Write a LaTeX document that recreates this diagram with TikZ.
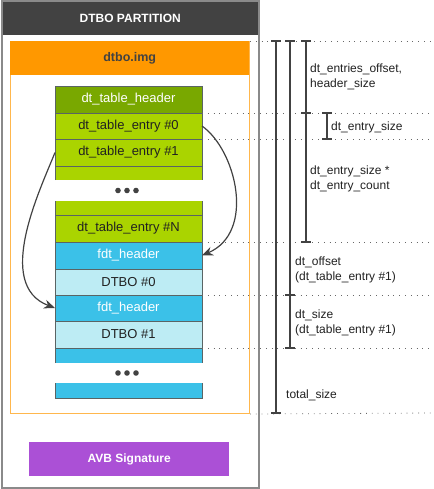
\documentclass[tikz,border=0pt]{standalone}
\usepackage{fontspec}
\setmainfont{Liberation Sans}
\usetikzlibrary{arrows.meta}
\definecolor{hdrgray}{HTML}{424242}
\definecolor{boxgray}{HTML}{8A8A8A}
\definecolor{orng}{HTML}{FF9800}
\definecolor{orngline}{HTML}{FFB74D}
\definecolor{dgreen}{HTML}{79A800}
\definecolor{lgreen}{HTML}{AAD400}
\definecolor{dblue}{HTML}{3BC1E8}
\definecolor{lblue}{HTML}{BDECF4}
\definecolor{purp}{HTML}{AB50D6}
\definecolor{edge}{HTML}{5A6464}
\definecolor{txt}{HTML}{212121}
\begin{document}
\begin{tikzpicture}[x=1pt,y=-1pt,
  rowbox/.style={anchor=north west, minimum width=147pt, inner sep=0pt, outer sep=0pt,
     draw=edge, line width=0.9pt, font=\fontsize{13}{15}\selectfont, text=txt},
  blankbox/.style={anchor=north west, minimum width=147pt, inner sep=0pt, outer sep=0pt},
  dotrow/.style={circle, fill=hdrgray, inner sep=0pt, minimum size=5.6pt},
  dim/.style={draw=hdrgray, line width=1.6pt},
  guide/.style={draw=hdrgray!80, line width=0.8pt, dash pattern=on 0.8pt off 5pt},
  lbl/.style={anchor=west, align=left, inner sep=0pt, font=\fontsize{12}{15}\selectfont, text=txt},
  link/.style={draw=hdrgray, line width=1.2pt, -{Stealth[length=11pt,width=9pt]}}]
\useasboundingbox (0,0) rectangle (433,489);
% outer partition
\node[anchor=north west, minimum width=256pt, minimum height=486pt, draw=boxgray, line width=1.3pt, inner sep=0pt] (part) at (2,1) {};
\node[anchor=north west, minimum width=256pt, minimum height=34pt, fill=hdrgray, inner sep=0pt, text=white, font=\bfseries\fontsize{12}{14}\selectfont] (parthdr) at (2,1) {DTBO PARTITION};
\draw[boxgray, line width=1.3pt] (part.north west) rectangle (part.south east);
% dtbo.img
\node[anchor=north west, minimum width=239pt, minimum height=372pt, draw=orngline, line width=1pt, inner sep=0pt] (img) at (10,41) {};
\node[anchor=north west, minimum width=239pt, minimum height=34pt, fill=orng, inner sep=0pt, text=hdrgray, font=\bfseries\fontsize{12.5}{14}\selectfont] (imghdr) at (10,41) {dtbo.img};
% stack
\node[rowbox, fill=dgreen, minimum height=27pt, text=white] (hdr) at (55,86) {dt\_table\_header};
\node[rowbox, fill=lgreen, minimum height=26pt] (e0) at (55,113) {dt\_table\_entry \#0};
\node[rowbox, fill=lgreen, minimum height=27pt] (e1) at (55,139) {dt\_table\_entry \#1};
\node[blankbox, fill=lgreen, minimum height=14pt] (g1) at (55,166) {};
\node[blankbox, fill=lgreen, minimum height=14pt] (g2) at (55,201) {};
\node[rowbox, fill=lgreen, minimum height=27pt] (eN) at (55,215) {dt\_table\_entry \#N};
\node[rowbox, fill=dblue, minimum height=27pt, text=white] (f0) at (55,242) {fdt\_header};
\node[rowbox, fill=lblue, minimum height=26pt] (d0) at (55,269) {DTBO \#0};
\node[rowbox, fill=dblue, minimum height=26pt, text=white] (f1) at (55,295) {fdt\_header};
\node[rowbox, fill=lblue, minimum height=27pt] (d1) at (55,321) {DTBO \#1};
\node[blankbox, fill=dblue, minimum height=15pt] (b1) at (55,348) {};
\node[blankbox, fill=dblue, minimum height=15pt] (b2) at (55,383) {};
\draw[edge, line width=0.9pt] (g1.south west) -- (g1.north west) -- (g1.north east) -- (g1.south east);
\draw[edge, line width=0.9pt] (g2.north west) -- (g2.south west) -- (g2.south east) -- (g2.north east);
\draw[edge, line width=0.9pt] (b1.south west) -- (b1.north west) -- (b1.north east) -- (b1.south east);
\draw[edge, line width=0.9pt] (b2.north west) -- (b2.south west) -- (b2.south east) -- (b2.north east);
% dots
\node[dotrow] (da1) at (118,190.5) {};
\node[dotrow] (da2) at (127,190.5) {};
\node[dotrow] (da3) at (136,190.5) {};
\node[dotrow] (db1) at (118,373) {};
\node[dotrow] (db2) at (127,373) {};
\node[dotrow] (db3) at (136,373) {};
% AVB
\node[anchor=north west, minimum width=200pt, minimum height=34pt, fill=purp, inner sep=0pt, text=white, font=\bfseries\fontsize{12}{14}\selectfont] (avb) at (29,442) {AVB Signature};
% links
\draw[link] (e0.east) .. controls (236,150) and (256,232) .. (f0.east);
\draw[link] (e1.west) .. controls (40,190) and (-6,285) .. (f1.west);
% guide coordinates
\coordinate (gA) at (433,41);
\coordinate (gB) at (433,113);
\coordinate (gC) at (433,139);
\coordinate (gD) at (433,242);
\coordinate (gE) at (433,295);
\coordinate (gF) at (433,348);
\coordinate (gG) at (433,413);
\draw[guide] (img.north east) -- (gA);
\draw[guide] (e0.north east) -- (gB);
\draw[guide] (e1.north east) -- (gC);
\draw[guide] (f0.north east) -- (gD);
\draw[guide] (f1.north east) -- (gE);
\draw[guide] (b1.north east) -- (gF);
\draw[guide] (img.south east) -- (gG);
% dimension bars
\coordinate (t1) at (276,41);  \coordinate (t1b) at (276,413);
\coordinate (t2) at (290,41);  \coordinate (t2m) at (290,295); \coordinate (t2b) at (290,348);
\coordinate (t3) at (306,41);  \coordinate (t3m) at (306,113); \coordinate (t3b) at (306,242);
\coordinate (t4) at (327,113); \coordinate (t4b) at (327,139);
\draw[dim] (t1) -- (t1b);
\draw[dim] (t2) -- (t2b);
\draw[dim] (t3) -- (t3b);
\draw[dim] (t4) -- (t4b);
\foreach \p in {t1,t1b,t2,t2m,t2b,t3,t3m,t3b,t4,t4b}
  \draw[dim] (\p) +(-5,0) -- +(5,0);
% labels
\node[lbl] (l1) at (310,77) {dt\_entries\_offset,\\header\_size};
\node[lbl] (l2) at (331,127) {dt\_entry\_size};
\node[lbl] (l3) at (310,179) {dt\_entry\_size *\\dt\_entry\_count};
\node[lbl] (l4) at (295,270) {dt\_offset\\(dt\_table\_entry \#1)};
\node[lbl] (l5) at (295,323) {dt\_size\\(dt\_table\_entry \#1)};
\node[lbl] (l6) at (286,395) {total\_size};
\end{tikzpicture}
\end{document}
